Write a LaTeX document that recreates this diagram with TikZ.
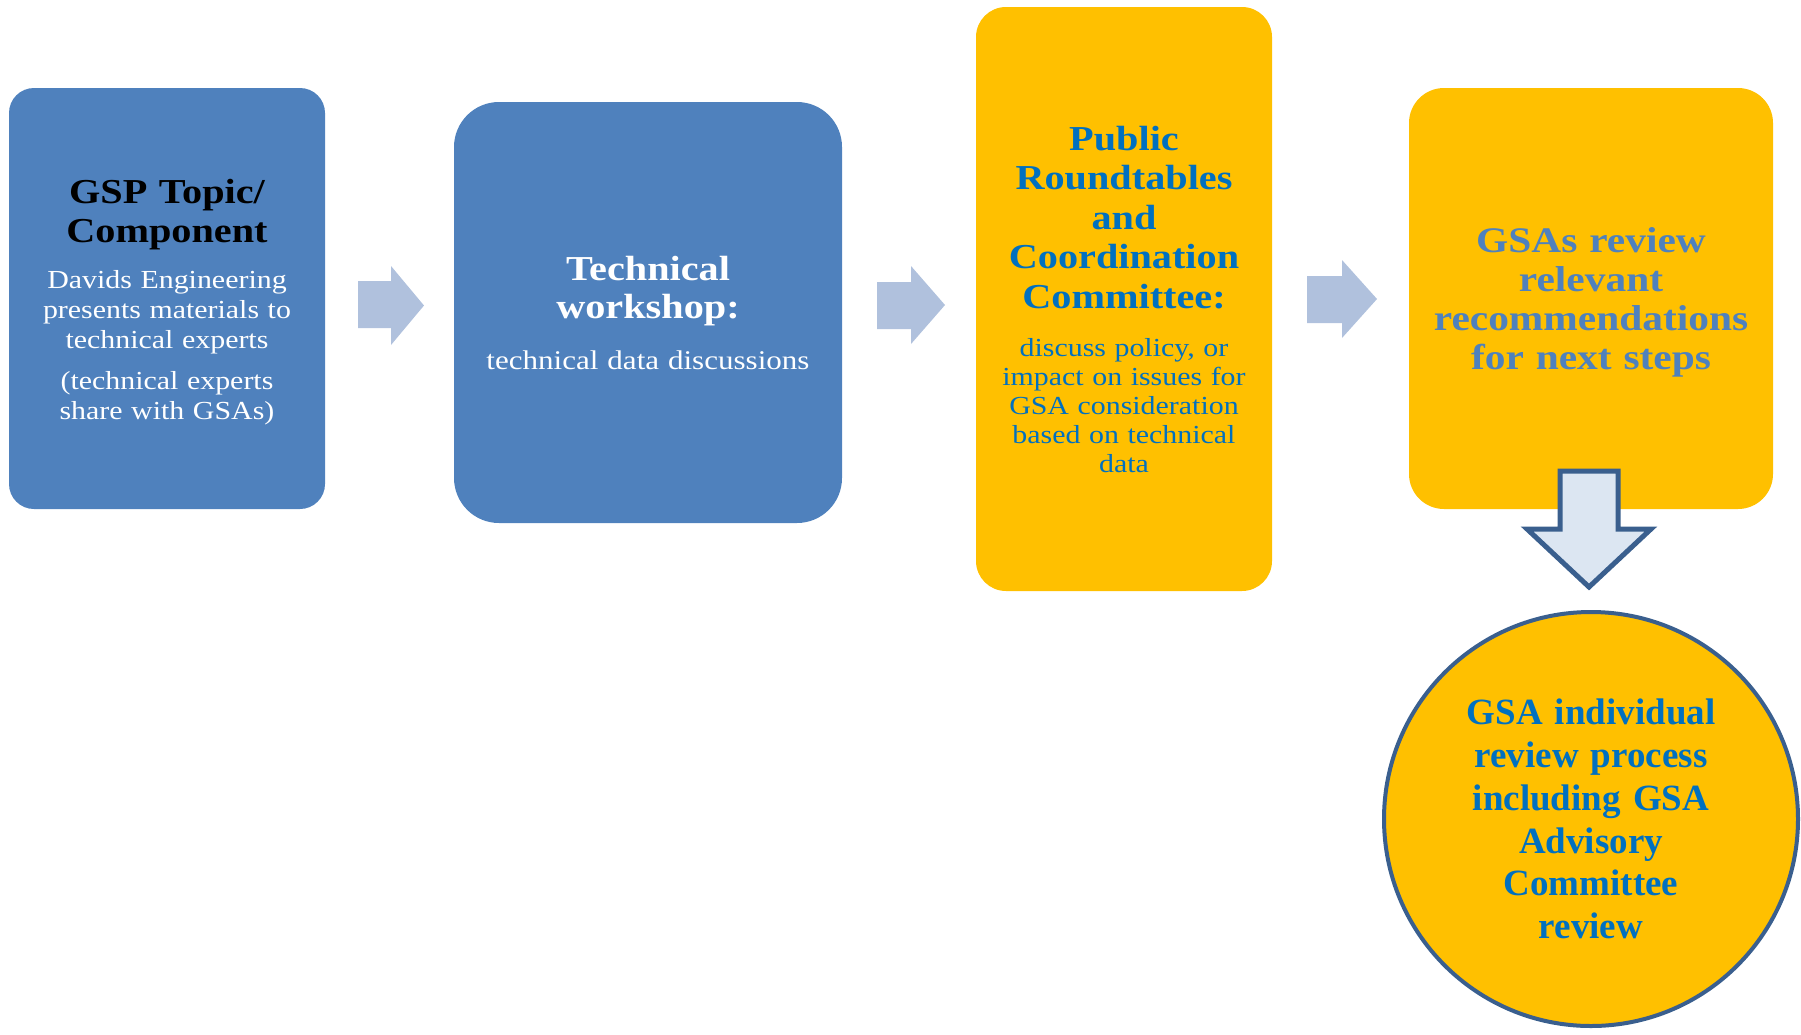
\documentclass[tikz,border=0pt]{standalone}
\usepackage{fontspec}
\setmainfont{Liberation Serif}
\newfontfamily\cambf[FakeStretch=1.15]{Liberation Serif}
\newfontfamily\timesf{Liberation Serif}
\definecolor{boxblue}{HTML}{4F81BD}
\definecolor{boxgold}{HTML}{FFC000}
\definecolor{arrowblue}{HTML}{B0C1DD}
\definecolor{textblue}{HTML}{0070C0}
\definecolor{edgeblue}{HTML}{3A5F8E}
\definecolor{downfill}{HTML}{DCE6F2}
\newcommand\fsz[2]{\fontsize{#1pt}{#2pt}\selectfont\spaceskip=0.33em\relax}
\begin{document}
\begin{tikzpicture}[x=1pt,y=-1pt,
  stepbox/.style={rectangle, inner sep=0pt},
  steptext/.style={inner sep=0pt, align=center, font=\cambf},
  blockarrow/.style={fill=arrowblue}]
\useasboundingbox (0,0) rectangle (1801,1034);

\node[stepbox, fill=boxblue, rounded corners=25pt, minimum width=316pt, minimum height=421pt] (b1) at (167,298.5) {};
\node[steptext, text width=300pt] (t1) at (167,302.5)
 {{\fsz{35}{39}\bfseries\color{black}GSP Topic/\\Component\par}\vspace{16pt}%
  {\fsz{26}{30}\color{white}Davids Engineering\\presents materials to\\technical experts\par}\vspace{11pt}%
  {\fsz{26}{30}\color{white}(technical experts\\share with GSAs)\par}};

\node[stepbox, fill=boxblue, rounded corners=45pt, minimum width=388pt, minimum height=421pt] (b2) at (648,312.5) {};
\node[steptext, text width=370pt] (t2) at (648,312.5)
 {{\fsz{35}{38}\bfseries\color{white}Technical\\workshop:\par}\vspace{20pt}%
  {\fsz{27}{31}\color{white}technical data discussions\par}};

\node[stepbox, fill=boxgold, rounded corners=30pt, minimum width=296pt, minimum height=584pt] (b3) at (1124,299) {};
\node[steptext, text width=290pt] (t3) at (1124,299)
 {{\fsz{35}{39.5}\bfseries\color{textblue}Public\\Roundtables\\and\\Coordination\\Committee:\par}\vspace{19pt}%
  {\fsz{26}{29}\color{textblue}discuss policy, or\\impact on issues for\\GSA consideration\\based on technical\\data\par}};

\node[stepbox, fill=boxgold, rounded corners=35pt, minimum width=364pt, minimum height=421pt] (b4) at (1591,298.5) {};
\node[steptext, text width=350pt] (t4) at (1591,302.5)
 {{\fsz{36}{39}\bfseries\color{boxblue}GSAs review\\relevant\\recommendations\\for next steps\par}};

\node[circle, inner sep=0pt, minimum size=414pt, draw=edgeblue, line width=4pt, fill=boxgold, align=center,
      font=\timesf\bfseries\fsz{37}{42.8}, text=textblue] (c5) at (1591,819)
 {GSA individual\\review process\\including GSA\\Advisory\\Committee\\review};

\fill[blockarrow] (358,281) -- (391,281) -- (391,266) -- (424,305.5) -- (391,345) -- (391,328) -- (358,328) -- cycle;
\fill[blockarrow] (877,282) -- (911,282) -- (911,266) -- (945,305) -- (911,344) -- (911,329) -- (877,329) -- cycle;
\fill[blockarrow] (1307,276) -- (1342,276) -- (1342,260) -- (1377,299) -- (1342,338) -- (1342,323) -- (1307,323) -- cycle;

\draw[edgeblue, line width=5pt, fill=downfill, line join=miter]
  (1560,471) -- (1618,471) -- (1618,529) -- (1651,529) -- (1589,587) -- (1527,529) -- (1560,529) -- cycle;
\end{tikzpicture}
\end{document}
